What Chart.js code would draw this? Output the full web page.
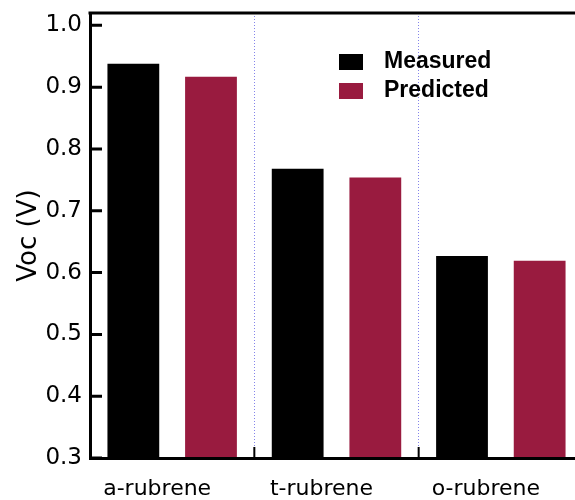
<!DOCTYPE html>
<html>
<head>
<meta charset="utf-8">
<script src="https://cdn.jsdelivr.net/npm/chart.js@4.4.1/dist/chart.umd.min.js"></script>
<style>
body { margin: 0; background: #fff; }
#wrap { width: 575px; height: 500px; overflow: hidden; }
</style>
</head>
<body>
<div id="wrap"><canvas id="voc-chart" width="600" height="500"></canvas></div>
<script>
const categories = ['a-rubrene', 't-rubrene', 'o-rubrene'];
const measured = [0.938, 0.768, 0.627];
const predicted = [0.917, 0.754, 0.619];
const yTicks = [0.3, 0.4, 0.5, 0.6, 0.7, 0.8, 0.9, 1.0];
const seriesNames = ['Measured', 'Predicted'];
const seriesColors = ['#000000', '#991b3f'];

const axisFont = { family: 'DejaVu Sans', size: 23 };

// inward ticks, top frame line and the legend box inside the plot
const frame = {
    id: 'frame',
    afterDraw(chart) {
        const { ctx, chartArea: a, scales: { x, y } } = chart;
        ctx.save();
        ctx.strokeStyle = '#000';
        ctx.lineWidth = 3;
        ctx.beginPath();
        ctx.moveTo(a.left - 1.5, a.top);
        ctx.lineTo(a.right, a.top);
        yTicks.forEach(v => {
            const py = y.getPixelForValue(v);
            ctx.moveTo(a.left, py);
            ctx.lineTo(a.left + 12, py);
        });
        ctx.stroke();

        ctx.lineWidth = 2;
        ctx.beginPath();
        for (let i = 1; i < categories.length; i++) {
            const px = (x.getPixelForValue(i - 1) + x.getPixelForValue(i)) / 2;
            ctx.moveTo(px, a.bottom);
            ctx.lineTo(px, a.bottom - 11);
        }
        ctx.stroke();

        ctx.font = 'bold 23px "Liberation Sans", Arial, sans-serif';
        ctx.textBaseline = 'middle';
        chart.data.datasets.forEach((ds, i) => {
            const top = a.top + 41 + i * 29;
            ctx.fillStyle = ds.backgroundColor;
            ctx.fillRect(a.left + 249, top, 24, 16);
            ctx.fillStyle = '#000';
            ctx.fillText(ds.label, a.left + 294, top + 8);
        });
        ctx.restore();
    }
};

new Chart(document.getElementById('voc-chart'), {
    type: 'bar',
    data: {
        labels: categories,
        datasets: [
            { label: seriesNames[0], data: measured, backgroundColor: seriesColors[0] },
            { label: seriesNames[1], data: predicted, backgroundColor: seriesColors[1] }
        ]
    },
    options: {
        responsive: false,
        animation: false,
        categoryPercentage: 0.945,
        barPercentage: 0.667,
        layout: { padding: { top: 13, right: 17, left: 0, bottom: 0 } },
        plugins: {
            legend: { display: false },
            tooltip: { enabled: false }
        },
        scales: {
            x: {
                grid: {
                    display: true,
                    offset: true,
                    color: 'rgba(110,110,230,0.85)',
                    lineWidth: 1,
                    drawTicks: false
                },
                border: { display: true, color: '#000', width: 3, dash: [1, 2], z: 1 },
                ticks: {
                    color: '#000',
                    font: { family: 'DejaVu Sans', size: 22 },
                    padding: 18,
                    labelOffset: -15
                },
                afterFit(scale) {
                    scale.height = 42;
                    scale.paddingLeft = 0;
                    scale.paddingRight = 0;
                }
            },
            y: {
                min: 0.3,
                max: 1.02,
                grid: { display: false, drawTicks: false },
                border: { display: true, color: '#000', width: 3 },
                ticks: {
                    color: '#000',
                    font: axisFont,
                    padding: 8,
                    callback: v => v.toFixed(1)
                },
                afterBuildTicks(scale) {
                    scale.ticks = yTicks.map(v => ({ value: v }));
                },
                title: {
                    display: true,
                    text: 'Voc (V)',
                    color: '#000',
                    font: { family: 'DejaVu Sans', size: 26 },
                    padding: { top: 14, bottom: 0 }
                },
                afterFit(scale) {
                    scale.width = 90;
                    scale.paddingTop = 0;
                    scale.paddingBottom = 0;
                }
            }
        }
    },
    plugins: [frame]
});
</script>
</body>
</html>
